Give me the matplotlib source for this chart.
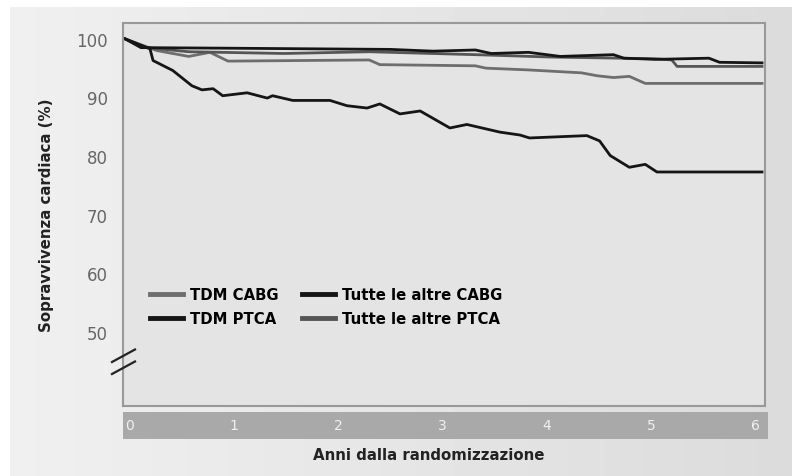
import numpy as np
import matplotlib.pyplot as plt
from matplotlib.lines import Line2D

# years since randomisation / cardiac survival (%)
x_tdm_ptca = [0, 0.235, 0.264, 0.45, 0.63, 0.725, 0.83, 0.92, 1.15, 1.34, 1.39, 1.58, 1.93, 2.09,
              2.28, 2.40, 2.59, 2.78, 3.06, 3.22, 3.53, 3.72, 3.81, 4.35, 4.47, 4.57, 4.75, 4.90,
              5.01, 6.0]
y_tdm_ptca = [100, 98.3, 96.3, 94.6, 92.0, 91.3, 91.5, 90.3, 90.8, 89.9, 90.3, 89.5, 89.5, 88.6,
              88.2, 88.9, 87.2, 87.7, 84.8, 85.4, 84.1, 83.6, 83.1, 83.5, 82.6, 80.1, 78.1, 78.6,
              77.3, 77.3]

x_tdm_cabg = [0, 0.3, 0.6, 0.8, 0.97, 2.3, 2.4, 3.3, 3.4, 3.8, 4.3, 4.45, 4.6, 4.75, 4.9, 6.0]
y_tdm_cabg = [100, 98.0, 97.0, 97.7, 96.2, 96.4, 95.6, 95.4, 95.0, 94.7, 94.2, 93.7, 93.4, 93.6,
              92.4, 92.4]

x_altre_cabg = [0, 0.15, 1.0, 2.5, 2.9, 3.3, 3.45, 3.8, 4.1, 4.6, 4.7, 5.0, 5.5, 5.6, 6.0]
y_altre_cabg = [100, 98.5, 98.4, 98.2, 97.9, 98.1, 97.5, 97.7, 97.0, 97.3, 96.7, 96.5, 96.7, 96.0,
                95.9]

x_altre_ptca = [0, 0.2, 0.6, 1.5, 2.3, 3.3, 4.0, 5.0, 5.15, 5.2, 6.0]
y_altre_ptca = [100, 98.5, 97.8, 97.5, 97.8, 97.3, 96.9, 96.6, 96.4, 95.3, 95.3]

yticks = [50, 60, 70, 80, 90, 100]
xticks = [0, 1, 2, 3, 4, 5, 6]

W, H = 792, 477
fig = plt.figure(figsize=(W / 100, H / 100), dpi=100, facecolor='white')

# background panel with soft gradient
bg = fig.add_axes([10 / W, 0, 1 - 10 / W, 1 - 8 / H])
grad = np.linspace(0.94, 0.86, 256).reshape(1, -1)
bg.imshow(grad, cmap='gray', vmin=0, vmax=1, aspect='auto', extent=[0, 1, 0, 1])
bg.set_axis_off()

ax = fig.add_axes([123 / W, 1 - 407 / H, 642 / W, 383 / H])
ax.set_facecolor('#e4e4e4')
for s in ax.spines.values():
    s.set_color('#999999')
    s.set_linewidth(1.5)

lw = 2.0
ax.plot(x_tdm_cabg, y_tdm_cabg, color='#6e6e6e', lw=lw, label='TDM CABG')
ax.plot(x_altre_ptca, y_altre_ptca, color='#555555', lw=lw, label='Tutte le altre PTCA')
ax.plot(x_altre_cabg, y_altre_cabg, color='#151515', lw=lw, label='Tutte le altre CABG')
ax.plot(x_tdm_ptca, y_tdm_ptca, color='#151515', lw=lw, label='TDM PTCA')

ax.set_xlim(-0.019, 6.028)
ax.set_ylim(37.4, 102.7)
ax.set_xticks([])
ax.set_yticks(yticks)
ax.set_yticklabels([str(v) for v in yticks], color='#666666', fontsize=12)
ax.tick_params(axis='y', length=0, pad=11)

h, l = ax.get_legend_handles_labels()
order = ['TDM CABG', 'TDM PTCA', 'Tutte le altre CABG', 'Tutte le altre PTCA']
hh = [h[l.index(o)] for o in order]
leg = ax.legend(hh, order, ncol=2, loc='upper left', bbox_to_anchor=(0.022, 0.345),
                frameon=False, handlelength=2.2, handletextpad=0.45, columnspacing=1.6,
                labelspacing=0.6, prop={'weight': 'bold', 'size': 10.7})
for line in leg.get_lines():
    line.set_linewidth(3.5)

ax.set_ylabel('Sopravvivenza cardiaca (%)', fontsize=10.8, fontweight='bold', color='#222222')
ax.yaxis.set_label_coords(-0.108, 0.5)

# axis break marks
for y0 in (363, 375):
    fig.add_artist(Line2D([112 / W, 135 / W], [1 - y0 / H, 1 - (y0 - 12.5) / H],
                          color='#222222', lw=1.6))

# x axis strip
strip = fig.add_axes([123 / W, 1 - 440 / H, 645 / W, 27 / H])
strip.set_facecolor('#a9a9a9')
for s in strip.spines.values():
    s.set_visible(False)
strip.set_xlim(-0.067, 6.125)
strip.set_ylim(0, 1)
strip.set_xticks([])
strip.set_yticks([])
for t in xticks:
    strip.text(t, 0.5, str(t), color='#f0f0f0', fontsize=10, ha='center', va='center')

fig.text(429 / W, 1 - 456 / H, 'Anni dalla randomizzazione', ha='center', va='center',
         fontsize=10.8, fontweight='bold', color='#222222')

fig.savefig('out.png', dpi=100)
